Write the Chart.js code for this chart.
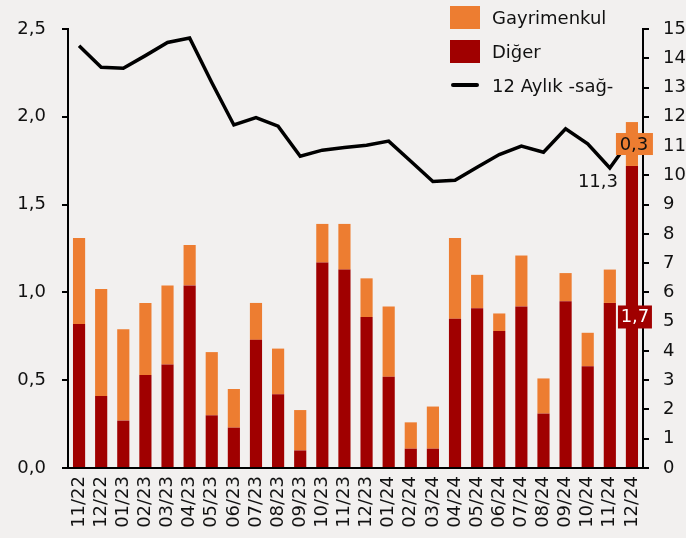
<!DOCTYPE html>
<html>
<head>
<meta charset="utf-8">
<script src="https://cdn.jsdelivr.net/npm/chart.js@4.4.0/dist/chart.umd.min.js"></script>
<style>
    body { margin: 0; background: #f2f0ef; }
    #wrap { position: relative; width: 686px; height: 538px; }
    .legend { position: absolute; left: 450px; top: 0; font: 18px 'DejaVu Sans', sans-serif; color: #111; }
    .legend-row { display: flex; align-items: center; height: 34px; }
    .legend-row span { margin-left: 12px; }
    .swatch { width: 30px; height: 23px; }
    .line-swatch { width: 28px; height: 4px; border-radius: 2px; background: #000; margin: 0 1px; }
</style>
</head>
<body>
<div id="wrap">
    <canvas id="chart" width="686" height="538"></canvas>
    <div class="legend">
        <div class="legend-row"><div class="swatch" style="background:#ED7D31"></div><span>Gayrimenkul</span></div>
        <div class="legend-row"><div class="swatch" style="background:#A00000"></div><span>Diğer</span></div>
        <div class="legend-row"><div class="line-swatch"></div><span>12 Aylık -sağ-</span></div>
    </div>
</div>
<script>
// Data
const months = ['11/22', '12/22', '01/23', '02/23', '03/23', '04/23', '05/23', '06/23', '07/23', '08/23',
    '09/23', '10/23', '11/23', '12/23', '01/24', '02/24', '03/24', '04/24', '05/24', '06/24',
    '07/24', '08/24', '09/24', '10/24', '11/24', '12/24'];

const diger = [0.82, 0.41, 0.27, 0.53, 0.59, 1.04, 0.30, 0.23, 0.73, 0.42,
    0.10, 1.17, 1.13, 0.86, 0.52, 0.11, 0.11, 0.85, 0.91, 0.78,
    0.92, 0.31, 0.95, 0.58, 0.94, 1.72];

const gayrimenkul = [0.49, 0.61, 0.52, 0.41, 0.45, 0.23, 0.36, 0.22, 0.21, 0.26,
    0.23, 0.22, 0.26, 0.22, 0.40, 0.15, 0.24, 0.46, 0.19, 0.10,
    0.29, 0.20, 0.16, 0.19, 0.19, 0.25];

const yillik = [14.43, 13.69, 13.66, 14.09, 14.54, 14.69, 13.17, 11.72, 11.97, 11.68,
    10.65, 10.86, 10.95, 11.03, 11.17, 10.48, 9.79, 9.83, 10.28, 10.71,
    11.00, 10.79, 11.59, 11.08, 10.25, 11.30];

const leftTicks = [0, 0.5, 1, 1.5, 2, 2.5];
const rightTicks = [0, 1, 2, 3, 4, 5, 6, 7, 8, 9, 10, 11, 12, 13, 14, 15];

const FONT = { family: 'DejaVu Sans', size: 18 };
const fmt = v => v.toFixed(1).replace('.', ',');

// labels for the last month
const lastLabels = {
    id: 'lastLabels',
    afterDatasetsDraw(chart) {
        const c = chart.ctx;
        const i = months.length - 1;
        const barD = chart.getDatasetMeta(1).data[i];
        const barG = chart.getDatasetMeta(2).data[i];
        const pt = chart.getDatasetMeta(0).data[i];
        c.save();
        c.font = '18px DejaVu Sans';
        c.textAlign = 'center';
        c.textBaseline = 'middle';

        // Gayrimenkul box
        let cy = (barG.y + barG.base) / 2;
        let cx = barG.x + 2;
        c.fillStyle = '#ED7D31';
        c.fillRect(cx - 18, cy - 11, 37, 22);
        c.fillStyle = '#111';
        c.fillText(fmt(gayrimenkul[i]), cx, cy + 1);

        // Diğer box
        cy = (barD.y + barD.base) / 2;
        cx = barD.x + 3;
        c.fillStyle = '#A00000';
        c.fillRect(cx - 17, cy - 11, 34, 23);
        c.fillStyle = '#fff';
        c.fillText(fmt(diger[i]), cx, cy + 1);

        // line value
        c.fillStyle = '#111';
        c.fillText(fmt(yillik[i]), pt.x - 34, pt.y + 45);
        c.restore();
    }
};

const ctx = document.getElementById('chart').getContext('2d');

new Chart(ctx, {
    type: 'bar',
    data: {
        labels: months,
        datasets: [
            {
                type: 'line',
                label: '12 Aylık -sağ-',
                data: yillik,
                yAxisID: 'y1',
                borderColor: '#000',
                borderWidth: 3.5,
                pointRadius: 0,
                tension: 0,
                order: 0
            },
            {
                label: 'Diğer',
                data: diger,
                backgroundColor: '#A00000',
                yAxisID: 'y',
                stack: 's',
                order: 1
            },
            {
                label: 'Gayrimenkul',
                data: gayrimenkul,
                backgroundColor: '#ED7D31',
                yAxisID: 'y',
                stack: 's',
                order: 1
            }
        ]
    },
    options: {
        responsive: false,
        animation: false,
        layout: { padding: { top: 29 } },
        datasets: { bar: { categoryPercentage: 1, barPercentage: 0.55 } },
        plugins: {
            legend: { display: false },
            tooltip: { enabled: false }
        },
        scales: {
            x: {
                stacked: true,
                offset: true,
                grid: { display: false },
                border: { display: true, color: '#000', width: 2 },
                ticks: {
                    color: '#111',
                    font: FONT,
                    minRotation: 90,
                    maxRotation: 90,
                    autoSkip: false,
                    padding: 0
                },
                afterFit(s) { s.height = 70; }
            },
            y: {
                position: 'left',
                stacked: true,
                min: 0,
                max: 2.5,
                afterBuildTicks(s) { s.ticks = leftTicks.map(v => ({ value: v })); },
                grid: { drawOnChartArea: false, tickLength: 6, color: '#000', lineWidth: 2 },
                border: { display: true, color: '#000', width: 2 },
                ticks: { color: '#111', font: FONT, padding: 16, callback: v => fmt(v) },
                afterFit(s) { s.width = 68; }
            },
            y1: {
                position: 'right',
                min: 0,
                max: 15,
                afterBuildTicks(s) { s.ticks = rightTicks.map(v => ({ value: v })); },
                grid: { drawOnChartArea: false, tickLength: 6, color: '#000', lineWidth: 2 },
                border: { display: true, color: '#000', width: 2 },
                ticks: { color: '#111', font: FONT, padding: 14 },
                afterFit(s) { s.width = 43; }
            }
        }
    },
    plugins: [lastLabels]
});
</script>
</body>
</html>
